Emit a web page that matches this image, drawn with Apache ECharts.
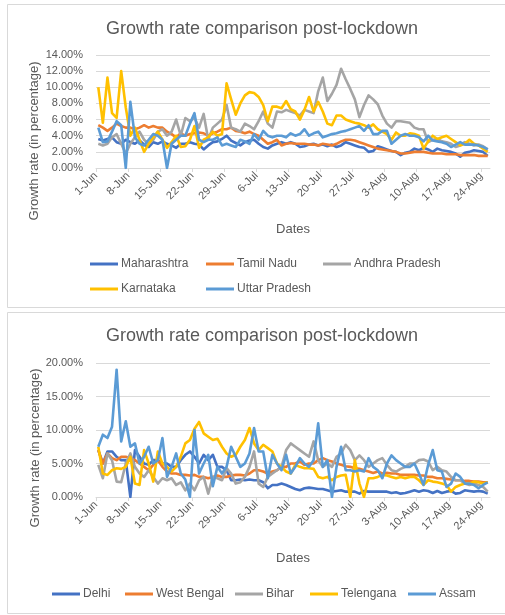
<!DOCTYPE html>
<html>
<head>
<meta charset="utf-8">
<script src="https://cdn.jsdelivr.net/npm/echarts@6/dist/echarts.min.js"></script>
<style>
  html, body { margin: 0; padding: 0; background: #ffffff; }
  #chart { width: 505px; height: 615px; }
</style>
</head>
<body>
<div id="chart"></div>
<script>
// Daily growth rate (%) from 1-Jun to 25-Aug, one value per day
const tickLabels = ['1-Jun', '8-Jun', '15-Jun', '22-Jun', '29-Jun', '6-Jul', '13-Jul',
  '20-Jul', '27-Jul', '3-Aug', '10-Aug', '17-Aug', '24-Aug'];
const dayCount = 86;

// ---- Panel 1 ----
const maharashtra = [
  3.6,3.4,3.6,3.8,3.2,3.0,3.5,3.2,3.0,3.4, 2.9,2.6,3.2,3.0,3.3,3.0,2.8,2.5,3.0,3.0, 3.2,3.0,2.9,2.3,2.8,3.2,3.3,3.6,4.0,3.4,
  3.1,2.8,3.2,3.4,3.5,3.0,2.6,2.4,2.8,3.0, 3.2,3.0,3.2,3.0,2.6,2.7,2.9,3.0,2.8,2.9, 2.7,2.9,2.6,2.8,3.2,3.0,2.8,2.6,2.5,2.0, 2.1,
  2.7,2.5,2.3,2.1,2.0,1.6,1.9,2.0,2.4,2.2, 2.5,2.3,2.0,2.4,2.2,2.1,2.0,1.8,1.4,1.9, 2.0,2.2,2.1,2.0,1.5
];
const tamilNadu = [
  5.3,5.0,4.6,5.0,5.5,5.2,5.0,5.0,4.8,5.0, 5.3,5.0,5.2,5.0,5.0,4.5,4.2,3.8,4.3,4.0, 4.2,4.3,4.4,4.3,4.0,4.3,4.5,4.8,4.8,5.0,
  4.6,4.5,4.3,4.5,4.2,4.0,3.5,3.0,3.2,3.5, 2.8,3.0,3.1,3.0,3.0,3.0,2.9,2.9,2.8,3.0, 2.9,2.8,3.0,3.3,3.5,3.5,3.4,3.2,3.0,2.8, 2.6,
  2.4,2.3,2.2,2.1,2.0,1.8,1.8,1.9,2.0,2.0, 2.0,1.9,1.8,1.8,1.8,1.7,1.7,1.7,1.6,1.6, 1.6,1.6,1.5,1.5,1.5
];
const andhraPradesh = [
  3.0,2.8,3.0,3.8,4.2,3.0,1.8,3.0,3.8,4.5, 3.5,3.0,3.5,4.5,4.8,4.0,4.5,6.0,4.0,6.2, 5.8,6.2,5.0,6.7,3.5,5.0,5.5,6.0,7.8,5.0,
  4.8,4.5,5.5,5.2,4.8,5.8,7.0,5.5,5.0,7.0, 6.9,7.2,7.0,6.8,6.5,7.2,7.0,6.8,9.5,11.2, 8.3,9.2,10.3,12.3,11.0,9.8,8.5,6.3,7.8,9.0, 8.5,
  7.9,6.5,5.5,5.0,5.8,5.8,5.7,5.6,5.0,4.8, 4.8,3.2,3.5,3.6,3.3,3.2,3.0,2.6,2.8,3.2, 3.0,2.8,2.9,2.7,2.3
];
const karnataka = [
  10.0,5.6,11.2,6.8,6.2,12.0,7.5,4.0,5.0,3.5, 2.0,3.0,3.8,4.5,3.5,2.5,3.2,4.0,2.6,2.7, 3.5,5.2,2.5,3.5,3.8,4.5,4.0,4.2,10.5,8.5,
  6.6,8.0,9.0,9.4,9.3,8.8,7.8,5.8,7.6,7.6, 7.4,8.3,7.3,7.0,6.0,7.2,8.8,7.0,8.2,7.0, 5.5,5.3,6.5,6.5,6.0,5.8,5.6,5.5,5.3,5.0, 5.4,
  4.8,4.5,4.2,3.5,4.4,4.0,4.0,4.3,4.2,4.0, 2.4,3.3,4.0,3.6,3.8,4.0,3.6,3.2,2.8,3.0, 3.5,3.0,2.8,2.4,2.0
];
const uttarPradesh = [
  5.0,3.2,3.3,4.5,5.8,5.3,0.0,8.2,3.8,3.0, 2.8,3.5,4.2,4.0,3.5,0.0,3.0,3.5,4.0,4.0, 5.5,6.8,3.5,3.2,3.5,3.5,3.8,2.8,3.0,2.8,
  2.6,3.5,3.3,3.0,4.2,3.5,4.6,4.0,3.8,4.0, 4.0,3.8,4.3,4.0,4.2,4.8,4.0,4.3,4.5,3.8, 4.0,4.2,4.3,4.5,4.6,4.8,5.0,5.2,4.6,5.3, 4.2,
  4.2,4.6,4.6,3.0,3.5,4.0,4.2,4.0,4.0,3.8, 3.3,4.0,3.4,3.3,3.2,3.0,2.6,2.9,3.2,2.9, 2.9,2.9,2.8,2.6,2.3
];

// ---- Panel 2 ----
const delhi = [
  7.0,5.0,6.8,6.8,6.0,5.5,5.5,0.0,7.0,6.0, 5.0,4.8,5.5,5.5,5.0,5.0,4.5,4.5,5.5,6.3, 6.8,6.0,5.0,6.3,5.5,6.3,4.5,4.5,4.0,2.5,
  2.5,2.6,2.5,2.6,2.5,2.5,2.2,1.3,1.8,1.8, 2.0,1.8,1.5,1.2,1.0,1.3,1.4,1.3,1.2,1.2, 1.0,0.8,0.9,1.0,0.8,0.8,0.8,0.5,0.9,0.8, 0.8,
  0.8,0.8,0.8,0.6,0.7,0.5,0.6,0.8,1.0,0.8, 1.0,0.9,0.6,0.9,0.6,0.8,0.9,0.5,0.6,1.0, 0.9,0.8,0.9,0.8,0.5
];
const westBengal = [
  7.0,5.0,6.5,5.8,5.5,6.0,6.0,5.8,5.5,5.0, 4.5,4.0,4.8,5.5,4.5,3.8,3.5,3.5,3.3,3.3, 3.2,3.3,3.0,3.0,2.8,3.0,3.2,3.0,3.0,3.2,
  3.3,3.3,3.2,3.5,4.0,4.0,3.8,3.5,3.8,4.0, 4.5,4.5,5.0,5.0,5.3,4.8,5.0,5.0,5.5,5.8, 5.5,5.3,5.0,4.8,4.6,4.5,4.3,4.2,4.0,3.8, 3.6,
  3.8,3.5,3.6,3.5,3.5,3.3,3.3,3.3,3.3,3.2, 3.2,3.0,3.0,2.8,2.8,2.7,2.6,2.5,2.5,2.4, 2.4,2.3,2.3,2.2,2.2
];
const bihar = [
  4.8,2.8,6.5,5.5,2.3,2.2,5.0,6.5,4.5,3.5, 3.0,4.0,3.0,2.0,2.8,2.5,2.8,1.8,2.2,1.0, 2.0,1.0,2.5,3.0,0.5,3.0,2.8,2.5,4.3,3.5,
  2.0,2.2,3.0,4.5,6.8,2.0,1.5,3.0,3.5,4.0, 4.5,7.0,8.0,7.5,7.0,6.5,6.0,8.3,5.5,4.5, 5.0,4.5,6.0,6.5,7.8,7.0,5.5,6.2,5.5,4.5, 5.0,
  5.5,5.8,4.8,4.0,3.8,4.2,4.5,5.0,5.0,5.5, 5.6,5.3,4.0,4.5,4.0,3.8,3.0,2.5,2.5,2.0, 1.8,2.0,1.8,1.5,0.8
];
const telengana = [
  7.5,3.5,3.3,4.0,4.3,4.2,4.5,6.0,2.0,1.8, 7.0,5.0,2.3,6.8,5.0,4.5,3.8,4.5,6.0,8.0, 8.5,10.2,11.2,9.5,9.0,8.5,8.7,7.5,6.5,6.0,
  6.3,7.5,8.5,10.3,8.0,7.0,7.8,7.3,6.8,5.0, 4.5,3.8,3.5,4.8,4.5,4.3,4.3,4.2,3.0,2.8, 3.0,2.5,3.0,3.2,3.3,0.0,5.5,2.0,0.0,2.8, 2.8,
  3.0,3.3,3.2,3.0,2.8,3.0,2.8,3.0,3.0,2.5, 1.8,2.5,2.3,2.2,2.0,1.8,0.8,1.5,1.8,2.0, 2.0,2.3,2.2,2.0,2.2
];
const assam = [
  7.5,9.3,8.8,10.5,19.0,8.3,11.3,7.5,8.0,5.0, 6.0,7.5,5.0,5.5,8.8,3.0,4.5,6.5,3.5,2.6, 0.0,10.0,3.5,5.0,6.3,1.6,4.5,3.5,4.5,7.5,
  6.0,4.5,5.0,6.5,10.3,6.8,6.8,2.8,6.3,5.0, 4.0,6.3,3.5,4.5,5.8,5.0,4.5,5.5,11.0,4.5, 5.5,0.0,4.5,7.5,4.0,4.0,3.8,4.0,3.8,5.8, 4.5,
  4.0,2.8,5.0,6.2,5.5,5.0,4.5,4.5,5.0,3.5, 1.8,4.8,7.0,4.0,3.8,1.5,2.0,3.5,3.0,2.0, 2.0,1.8,1.3,1.8,2.2
];

const panel1 = [
  { name: 'Maharashtra', values: maharashtra, color: '#4472C4' },
  { name: 'Tamil Nadu', values: tamilNadu, color: '#ED7D31' },
  { name: 'Andhra Pradesh', values: andhraPradesh, color: '#A5A5A5' },
  { name: 'Karnataka', values: karnataka, color: '#FFC000' },
  { name: 'Uttar Pradesh', values: uttarPradesh, color: '#5B9BD5' }
];
const panel2 = [
  { name: 'Delhi', values: delhi, color: '#4472C4' },
  { name: 'West Bengal', values: westBengal, color: '#ED7D31' },
  { name: 'Bihar', values: bihar, color: '#A5A5A5' },
  { name: 'Telengana', values: telengana, color: '#FFC000' },
  { name: 'Assam', values: assam, color: '#5B9BD5' }
];

const FONT = '"Liberation Sans", Arial, sans-serif';
const TEXT = '#595959';
const GRID_LINE = '#d9d9d9';
const Y_TITLE = 'Growth rate (in percentage)';
const tickValues = tickLabels.map((_, k) => k * 7);

function xAxisFor(gridIndex) {
  return {
    type: 'value', gridIndex: gridIndex, min: 0, max: dayCount,
    name: 'Dates', nameLocation: 'middle', nameGap: 55,
    nameTextStyle: { color: TEXT, fontSize: 13, fontFamily: FONT },
    axisLine: { show: true, lineStyle: { color: GRID_LINE, width: 1 } },
    axisTick: { show: true, length: 4, customValues: tickValues, lineStyle: { color: GRID_LINE } },
    axisLabel: {
      rotate: 45, margin: 6, color: TEXT, fontSize: 11, fontFamily: FONT,
      customValues: tickValues,
      formatter: v => tickLabels[Math.round(v / 7)] || ''
    },
    splitLine: { show: false }
  };
}
function yAxisFor(gridIndex, max, interval) {
  return {
    type: 'value', gridIndex: gridIndex, min: 0, max: max, interval: interval,
    axisLine: { show: false }, axisTick: { show: false },
    axisLabel: { color: TEXT, fontSize: 11, fontFamily: FONT, margin: 13,
      formatter: v => v.toFixed(2) + '%' },
    splitLine: { lineStyle: { color: GRID_LINE, width: 1 } }
  };
}
function seriesFor(list, axisIndex) {
  return list.map(s => ({
    name: s.name, type: 'line', xAxisIndex: axisIndex, yAxisIndex: axisIndex,
    data: s.values.map((v, i) => [i + 0.5, v]),
    showSymbol: false, symbol: 'none', smooth: false,
    lineStyle: { color: s.color, width: 2.6, join: 'round' },
    itemStyle: { color: s.color },
    animation: false
  }));
}
function yTitle(cx, cy) {
  return {
    type: 'text', x: cx, y: cy, rotation: Math.PI / 2, silent: true,
    style: { text: Y_TITLE, fill: TEXT, font: '13px ' + FONT, align: 'center', verticalAlign: 'middle' }
  };
}
const legendBase = {
  icon: 'rect', itemWidth: 28, itemHeight: 3, padding: 0,
  textStyle: { color: TEXT, fontSize: 12, fontFamily: FONT, padding: [0, 0, 0, -2] }
};
// Legend entries sit in fixed columns
const legendSlots1 = [[90, 258], [206, 258], [323, 258], [90, 283], [206, 283]];
const legendSlots2 = [[52, 588], [125, 588], [235, 588], [310, 588], [408, 588]];
const legends = panel1.map((s, k) => Object.assign({}, legendBase, {
  data: [s.name], left: legendSlots1[k][0], top: legendSlots1[k][1]
})).concat(panel2.map((s, k) => Object.assign({}, legendBase, {
  data: [s.name], left: legendSlots2[k][0], top: legendSlots2[k][1]
})));

const chart = echarts.init(document.getElementById('chart'), null, { renderer: 'canvas' });
chart.setOption({
  animation: false,
  backgroundColor: '#ffffff',
  graphic: [
    { type: 'rect', z: -10, silent: true, shape: { x: 7.5, y: 4.5, width: 505, height: 303 },
      style: { fill: '#ffffff', stroke: GRID_LINE, lineWidth: 1 } },
    { type: 'rect', z: -10, silent: true, shape: { x: 7.5, y: 312.5, width: 505, height: 301 },
      style: { fill: '#ffffff', stroke: GRID_LINE, lineWidth: 1 } },
    yTitle(34, 141),
    yTitle(35, 448)
  ],
  title: [
    { text: 'Growth rate comparison post-lockdown', left: 257, top: 15, textAlign: 'center',
      textStyle: { color: TEXT, fontSize: 18, fontWeight: 'normal', fontFamily: FONT } },
    { text: 'Growth rate comparison post-lockdown', left: 257, top: 322, textAlign: 'center',
      textStyle: { color: TEXT, fontSize: 18, fontWeight: 'normal', fontFamily: FONT } }
  ],
  legend: legends,
  grid: [
    { left: 96, right: 15, top: 55, height: 113 },
    { left: 96, right: 15, top: 363, height: 134 }
  ],
  xAxis: [xAxisFor(0), xAxisFor(1)],
  yAxis: [yAxisFor(0, 14, 2), yAxisFor(1, 20, 5)],
  series: seriesFor(panel1, 0).concat(seriesFor(panel2, 1))
});
</script>
</body>
</html>
